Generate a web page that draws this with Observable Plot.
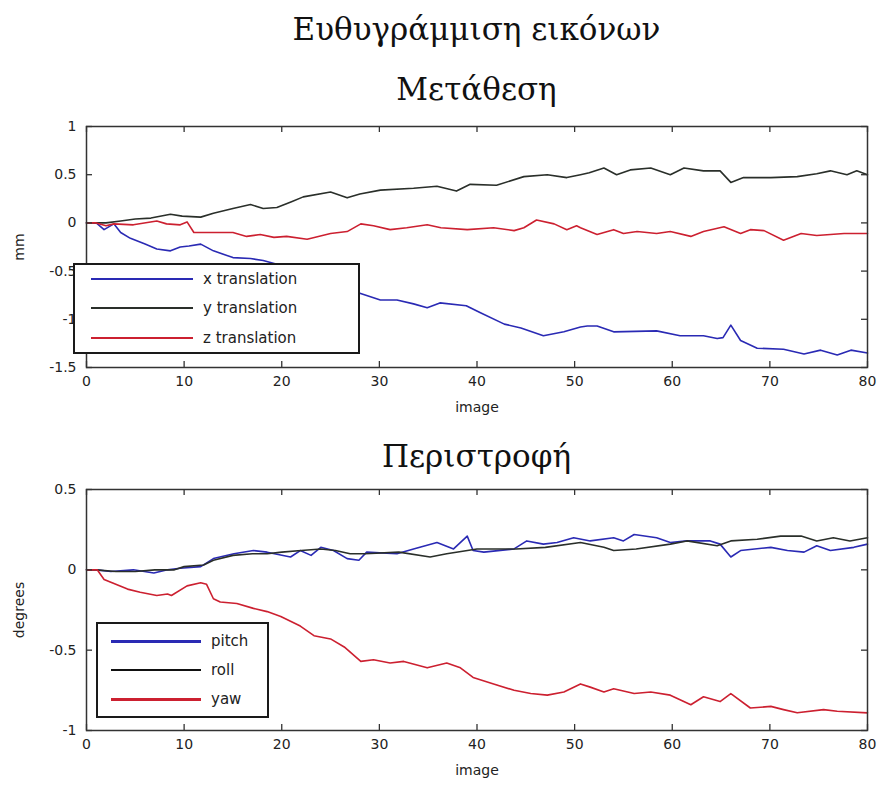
<!DOCTYPE html>
<html>
<head>
<meta charset="utf-8">
<script src="https://cdn.jsdelivr.net/npm/d3@7"></script>
<script src="https://cdn.jsdelivr.net/npm/@observablehq/plot@0.6"></script>
<style>
  html, body { margin: 0; padding: 0; background: #fff; }
  #page { position: relative; width: 879px; height: 785px; overflow: hidden; background: #fff; }
  .title { position: absolute; left: 86px; width: 781px; text-align: center; font-family: "DejaVu Serif", "Liberation Serif", serif; font-size: 31px; color: #111; line-height: 40px; height: 40px; }
  .plot { position: absolute; left: 0; }
  .legend { position: absolute; background: #fff; border: 2px solid #1a1a1a; box-sizing: border-box; font-family: "DejaVu Sans", Arial, sans-serif; font-size: 15px; color: #222; }
  .row { position: absolute; left: 0; height: 20px; }
  .row .ln { position: absolute; top: 9px; height: 0; }
  .row .tx { position: absolute; top: 0; line-height: 20px; white-space: nowrap; }
</style>
</head>
<body>
<div id="page">
  <div class="title" style="top:9px">Ευθυγράμμιση εικόνων</div>
  <div class="title" style="top:69px">Μετάθεση</div>
  <div class="title" style="top:436px">Περιστροφή</div>
  <div id="top" class="plot" style="top:110px"></div>
  <div id="bottom" class="plot" style="top:473px"></div>
  <div id="leg1" class="legend" style="left:73px; top:263px; width:287px; height:91px;"></div>
  <div id="leg2" class="legend" style="left:96px; top:622px; width:173px; height:96px;"></div>
</div>
<script>
// ---- Data (image index, value) ----
const xTicks = [0, 10, 20, 30, 40, 50, 60, 70, 80];
const yTicksTop = [-1.5, -1, -0.5, 0, 0.5, 1];
const yTicksBottom = [-1, -0.5, 0, 0.5];

const translationLabels = ["x translation", "y translation", "z translation"];
const rotationLabels = ["pitch", "roll", "yaw"];

const xTranslation = [[0,0],[1,0],[1.8,-0.07],[2.8,-0.01],[3.5,-0.1],[4.5,-0.16],[6,-0.22],[7.2,-0.27],[8.6,-0.29],[9.6,-0.25],[10.5,-0.24],[11.7,-0.22],[13,-0.29],[15,-0.36],[16.8,-0.37],[18.1,-0.39],[19.5,-0.43],[21,-0.5],[24,-0.6],[26,-0.66],[28,-0.73],[30.1,-0.80],[31.8,-0.80],[33.5,-0.84],[34.9,-0.88],[36.2,-0.83],[38.9,-0.86],[40.3,-0.93],[42.8,-1.05],[44.5,-1.09],[46.8,-1.17],[48.9,-1.13],[50.6,-1.08],[51.3,-1.07],[52.3,-1.07],[54,-1.13],[58.4,-1.12],[60.8,-1.17],[63.2,-1.17],[64.6,-1.20],[65.2,-1.19],[66,-1.06],[67,-1.22],[68.7,-1.30],[71.4,-1.31],[73.5,-1.36],[75.2,-1.32],[76.9,-1.37],[78.3,-1.32],[80,-1.35]];
const yTranslation = [[0,0],[2,0],[3.5,0.02],[5,0.04],[6.6,0.05],[8.6,0.09],[9.8,0.07],[11.7,0.06],[13,0.1],[15,0.15],[16.8,0.19],[18.1,0.15],[19.5,0.16],[21,0.22],[22.2,0.27],[25,0.32],[26.7,0.26],[28,0.3],[30.1,0.34],[33.5,0.36],[35.9,0.38],[37.9,0.33],[39.3,0.40],[42,0.39],[44.8,0.48],[47.2,0.50],[49.2,0.47],[50.6,0.50],[51.5,0.52],[53,0.57],[54.3,0.50],[55.7,0.55],[57.8,0.57],[59.8,0.50],[61.2,0.57],[63.2,0.54],[64.9,0.54],[66,0.42],[67.3,0.47],[70.1,0.47],[72.8,0.48],[74.8,0.51],[76.2,0.54],[77.9,0.50],[78.9,0.54],[80,0.50]];
const zTranslation = [[0,0],[1,0],[2,-0.03],[2.8,-0.01],[4.8,-0.02],[7.2,0.02],[8.2,-0.01],[9.6,-0.02],[10.3,0.01],[11,-0.10],[13,-0.10],[15,-0.10],[16.4,-0.14],[17.8,-0.12],[19.2,-0.15],[20.5,-0.14],[22.6,-0.17],[25,-0.11],[26.7,-0.09],[28.1,-0.01],[29.4,-0.03],[31.1,-0.07],[32.8,-0.05],[34.9,-0.02],[36.3,-0.05],[39,-0.07],[41.7,-0.05],[43.8,-0.08],[44.8,-0.05],[46.1,0.03],[47.9,-0.01],[49.2,-0.07],[50.2,-0.03],[50.6,-0.05],[52.3,-0.12],[54,-0.07],[55,-0.11],[56.4,-0.09],[58.4,-0.11],[59.8,-0.09],[61.9,-0.14],[63.2,-0.09],[65.3,-0.04],[67,-0.11],[68,-0.07],[69.4,-0.08],[71.4,-0.18],[73.2,-0.11],[74.8,-0.13],[77.6,-0.11],[80,-0.11]];

const pitch = [[0,0],[1,0],[2.5,-0.01],[4.8,0],[6.9,-0.02],[8.3,0],[9.6,0.01],[11.7,0.02],[13,0.07],[15.1,0.10],[17.1,0.12],[18.5,0.11],[20.9,0.08],[21.9,0.12],[23,0.09],[24,0.14],[25.3,0.12],[26.7,0.07],[27.9,0.06],[28.7,0.11],[31.8,0.10],[33.5,0.13],[35.9,0.17],[37.6,0.13],[39,0.21],[39.6,0.12],[40.7,0.11],[43.8,0.13],[45.1,0.18],[46.8,0.16],[48.2,0.17],[49.9,0.20],[51.6,0.18],[54,0.20],[55,0.18],[56.1,0.22],[58.4,0.20],[59.8,0.17],[61.5,0.18],[63.9,0.18],[64.9,0.16],[66,0.08],[67,0.12],[70.1,0.14],[71.8,0.12],[73.5,0.11],[74.8,0.15],[76.2,0.12],[78.6,0.14],[80,0.16]];
const roll = [[0,0],[1,0],[3,-0.01],[5,-0.01],[7,0],[9,0],[10,0.02],[12,0.03],[13,0.06],[15,0.09],[17,0.10],[18.5,0.10],[20,0.11],[22,0.12],[24,0.13],[25.5,0.12],[27,0.10],[28.5,0.10],[32,0.11],[35.2,0.08],[36.9,0.10],[40,0.13],[44,0.13],[47,0.14],[50.6,0.17],[53,0.14],[54,0.12],[56.3,0.13],[59.8,0.16],[61.5,0.18],[64.6,0.15],[66,0.18],[68.7,0.19],[71.1,0.21],[73.2,0.21],[74.8,0.18],[76.5,0.20],[78.2,0.18],[80,0.20]];
const yaw = [[0,0],[1.1,0],[1.8,-0.06],[4.2,-0.12],[5.5,-0.14],[7.2,-0.16],[8.3,-0.15],[8.7,-0.16],[10.3,-0.10],[11.7,-0.08],[12.3,-0.09],[13,-0.18],[13.7,-0.20],[15.4,-0.21],[17.1,-0.24],[18.5,-0.26],[19.9,-0.29],[20.9,-0.32],[21.9,-0.35],[23.3,-0.41],[25,-0.43],[26.4,-0.48],[28.1,-0.57],[29.4,-0.56],[31.1,-0.58],[32.5,-0.57],[34.9,-0.61],[36.9,-0.58],[38.3,-0.61],[39.6,-0.67],[41.7,-0.71],[43.8,-0.75],[45.5,-0.77],[47.2,-0.78],[48.9,-0.76],[50.6,-0.71],[51.6,-0.73],[53,-0.76],[54,-0.74],[56.1,-0.77],[57.8,-0.76],[59.8,-0.78],[61.9,-0.84],[63.2,-0.79],[64.9,-0.82],[66,-0.77],[68,-0.86],[70.1,-0.85],[71.4,-0.87],[72.8,-0.89],[75.5,-0.87],[76.9,-0.88],[80,-0.89]];

const blue = "#2a2ab4", dark = "#2a2f2a", red = "#cc2030";

const W = 879, H = 312, ML = 86, MR = 12, MT = 16, MB = 55;
const plotW = W - ML - MR, plotH = H - MT - MB, TICK = 6;

function panel(series, colors, yDomain, yTicks, yLabel) {
  return Plot.plot({
    width: W, height: H,
    marginLeft: ML, marginRight: MR, marginTop: MT, marginBottom: MB,
    style: {fontFamily: "'DejaVu Sans', Arial, sans-serif", fontSize: "14px", color: "#222", background: "transparent", overflow: "visible"},
    x: {domain: [0, 80], label: null},
    y: {domain: yDomain, label: null},
    marks: [
      ...series.map((s, i) => Plot.line(s, {x: d => d[0], y: d => d[1], stroke: colors[i], strokeWidth: 1.6})),
      Plot.frame({stroke: "#333", strokeWidth: 1.5}),
      // inward ticks on all four sides
      Plot.tickX(xTicks, {x: d => d, insetTop: plotH - TICK, stroke: "#333", strokeWidth: 1.3}),
      Plot.tickX(xTicks, {x: d => d, insetBottom: plotH - TICK, stroke: "#333", strokeWidth: 1.3}),
      Plot.tickY(yTicks, {y: d => d, insetRight: plotW - TICK, stroke: "#333", strokeWidth: 1.3}),
      Plot.tickY(yTicks, {y: d => d, insetLeft: plotW - TICK, stroke: "#333", strokeWidth: 1.3}),
      Plot.axisX(xTicks, {tickSize: 0, tickPadding: 9, tickFormat: d => String(d), label: null}),
      Plot.axisY(yTicks, {tickSize: 0, tickPadding: 10, tickFormat: d => String(d), label: null}),
      Plot.text(["image"], {text: d => d, frameAnchor: "bottom", textAnchor: "middle", dy: 44, fontSize: 14}),
      Plot.text([yLabel], {text: d => d, frameAnchor: "left", textAnchor: "middle", dx: -67, rotate: -90, fontSize: 14})
    ]
  });
}

document.getElementById("top").append(
  panel([xTranslation, yTranslation, zTranslation], [blue, dark, red], [-1.5, 1], yTicksTop, "mm"));
document.getElementById("bottom").append(
  panel([pitch, roll, yaw], [blue, dark, red], [-1, 0.5], yTicksBottom, "degrees"));

function legend(el, labels, colors, rowsY, lineX, textX, widths) {
  labels.forEach((lab, i) => {
    const row = document.createElement("div");
    row.className = "row";
    row.style.top = (rowsY[i] - 10) + "px";
    row.style.width = "100%";
    const ln = document.createElement("div");
    ln.className = "ln";
    ln.style.left = lineX[0] + "px";
    ln.style.width = (lineX[1] - lineX[0]) + "px";
    ln.style.borderTop = widths[i] + "px solid " + colors[i];
    const tx = document.createElement("div");
    tx.className = "tx";
    tx.style.left = textX + "px";
    tx.textContent = lab;
    row.append(ln, tx);
    el.append(row);
  });
}
legend(document.getElementById("leg1"), translationLabels, [blue, dark, red], [14, 43, 73], [16, 118], 128, [2, 2, 2]);
legend(document.getElementById("leg2"), rotationLabels, [blue, "#111", red], [17, 46, 75], [13, 103], 113, [3, 2, 3]);
</script>
</body>
</html>
